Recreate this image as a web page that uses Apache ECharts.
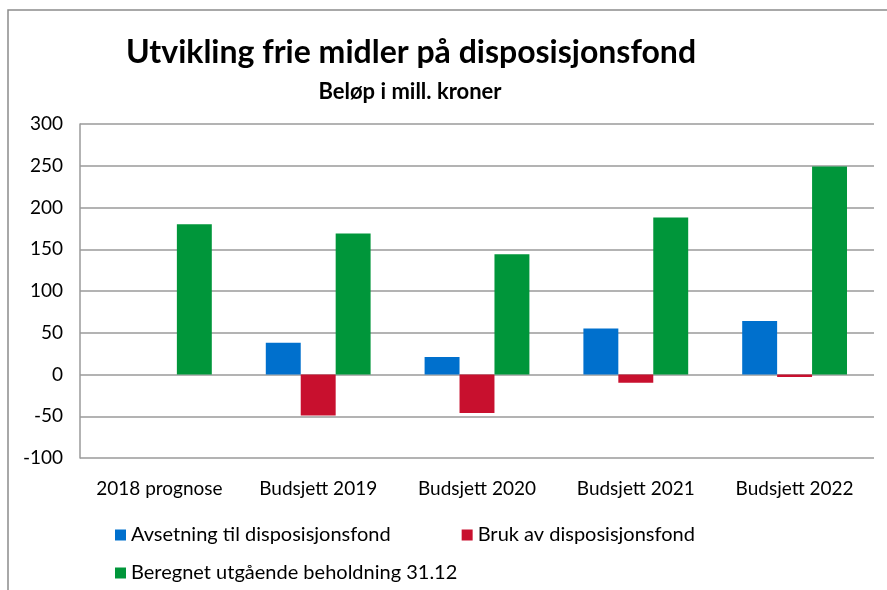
<!DOCTYPE html>
<html>
<head>
<meta charset="utf-8">
<script src="https://cdn.jsdelivr.net/npm/echarts@6/dist/echarts.min.js"></script>
<style>
html, body { margin: 0; padding: 0; background: #fff; }
#chart { width: 887px; height: 590px; }
</style>
</head>
<body>
<div id="chart"></div>
<script>
// kategorier og verdier lest av figuren
const categories = ['2018 prognose', 'Budsjett 2019', 'Budsjett 2020', 'Budsjett 2021', 'Budsjett 2022'];
const avsetning = [null, 38, 21, 55, 64];
const bruk = [null, -49, -46, -10, -3];
const beholdning = [180, 169, 144, 188, 249];
const seriesNames = ['Avsetning til disposisjonsfond', 'Bruk av disposisjonsfond', 'Beregnet utgående beholdning 31.12'];

const font = 'Lato';
const myChart = echarts.init(document.getElementById('chart'));

const option = {
    animation: false,
    textStyle: { fontFamily: font },
    graphic: [
        { // ytre ramme
            type: 'polyline',
            shape: { points: [[8, 590], [8, 10], [887, 10]] },
            style: { stroke: '#8c8c8c', lineWidth: 1.5, fill: null }
        }
    ],
    title: [
        {
            text: 'Utvikling frie midler på disposisjonsfond',
            left: 406, top: 32, textAlign: 'center',
            textStyle: { fontFamily: font, fontSize: 32, fontWeight: 'bold', color: '#000' }
        },
        {
            text: 'Beløp i mill. kroner',
            left: 405, top: 76, textAlign: 'center',
            textStyle: { fontFamily: font, fontSize: 22, fontWeight: 'bold', color: '#000' }
        }
    ],
    legend: [
        {
            data: [seriesNames[0], seriesNames[1]],
            left: 110, top: 520, itemGap: 71,
            itemWidth: 11, itemHeight: 11, icon: 'rect',
            textStyle: { fontFamily: font, fontSize: 20, color: '#000' }
        },
        {
            data: [seriesNames[2]],
            left: 110, top: 558,
            itemWidth: 11, itemHeight: 11, icon: 'rect',
            textStyle: { fontFamily: font, fontSize: 20, color: '#000' }
        }
    ],
    grid: { left: 80, right: 13, top: 124, bottom: 132, containLabel: false },
    xAxis: {
        type: 'category',
        data: categories,
        axisLine: { show: false },
        axisTick: { show: false },
        axisLabel: { interval: 0, fontFamily: font, fontSize: 19, color: '#000', margin: 21 }
    },
    yAxis: {
        type: 'value',
        min: -100, max: 300, interval: 50,
        axisLine: { show: true, lineStyle: { color: '#9a9a9a', width: 1.5 } },
        axisTick: { show: false },
        axisLabel: { fontFamily: font, fontSize: 19, color: '#000', margin: 17 },
        splitLine: { lineStyle: { color: '#9a9a9a', width: 1.5 } }
    },
    series: [
        {
            name: seriesNames[0], type: 'bar', data: avsetning,
            itemStyle: { color: '#0070CD' },
            barGap: '0%', barCategoryGap: '34%'
        },
        {
            name: seriesNames[1], type: 'bar', data: bruk,
            itemStyle: { color: '#C8102E' }
        },
        {
            name: seriesNames[2], type: 'bar', data: beholdning,
            itemStyle: { color: '#00963A' }
        }
    ]
};
myChart.setOption(option);
</script>
</body>
</html>
